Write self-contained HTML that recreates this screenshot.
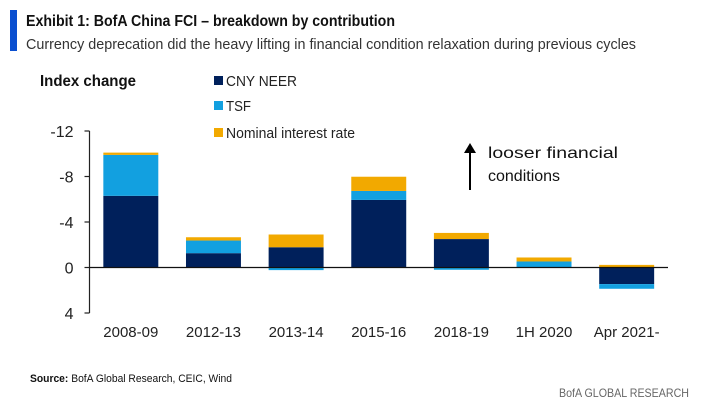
<!DOCTYPE html>
<html><head><meta charset="utf-8"><style>
body{margin:0;width:702px;height:416px;background:#fff;overflow:hidden;font-family:"Liberation Sans Narrow","Liberation Sans",sans-serif;}
svg{position:absolute;left:0;top:0}
</style></head><body>
<svg width="702" height="416">
<rect x="10" y="10" width="7" height="41" fill="#0a4fd0"/>
<text x="26" y="26" font-size="16" font-weight="bold" fill="#111" textLength="369" lengthAdjust="spacingAndGlyphs">Exhibit 1: BofA China FCI – breakdown by contribution</text>
<text x="26" y="49" font-size="15" fill="#333" textLength="610" lengthAdjust="spacingAndGlyphs">Currency deprecation did the heavy lifting in financial condition relaxation during previous cycles</text>
<text x="40" y="86" font-size="16" font-weight="bold" fill="#111" textLength="96" lengthAdjust="spacingAndGlyphs">Index change</text>
<g>
<rect x="214" y="76" width="9" height="9" fill="#00205b"/>
<text x="226" y="86" font-size="15" fill="#222" textLength="71" lengthAdjust="spacingAndGlyphs">CNY NEER</text>
<rect x="214" y="101" width="9" height="9" fill="#12a0e0"/>
<text x="226" y="111" font-size="15" fill="#222" textLength="25" lengthAdjust="spacingAndGlyphs">TSF</text>
<rect x="214" y="128" width="9" height="9" fill="#f2a900"/>
<text x="226" y="138" font-size="15" fill="#222" textLength="129" lengthAdjust="spacingAndGlyphs">Nominal interest rate</text>
</g>
<g id="plot"></g>
<line x1="470" y1="190" x2="470" y2="150" stroke="#000" stroke-width="2"/>
<polygon points="464,153 470,143 476,153" fill="#000"/>
<text x="488" y="158" font-size="16" fill="#111" font-family="Liberation Sans, sans-serif" textLength="130" lengthAdjust="spacingAndGlyphs">looser  financial</text>
<text x="488" y="181" font-size="16" fill="#111" font-family="Liberation Sans, sans-serif">conditions</text>
<text x="30" y="382" font-size="11" fill="#111" textLength="202" lengthAdjust="spacingAndGlyphs"><tspan font-weight="bold">Source:</tspan>  BofA Global Research, CEIC, Wind</text>
<text x="689" y="397" font-size="12" fill="#666" text-anchor="end" textLength="130" lengthAdjust="spacingAndGlyphs">BofA GLOBAL RESEARCH</text>
</svg>
<script>
const categories=["2008-09","2012-13","2013-14","2015-16","2018-19","1H 2020","Apr 2021-"];
const cnyNeer=[-6.3,-1.26,-1.78,-5.94,-2.5,0,1.46];
const tsf=[-3.6,-1.11,0.23,-0.79,0.2,-0.53,0.41];
const nominalRate=[-0.2,-0.29,-1.12,-1.25,-0.54,-0.35,-0.23];
const yTicks=[-12,-8,-4,0,4];
const NS="http://www.w3.org/2000/svg";
const g=document.getElementById('plot');
const x0=89.5,x1=668,yTop=131,yBot=313,vMin=-12,vMax=4;
const y=v=>yTop+(v-vMin)/(vMax-vMin)*(yBot-yTop);
const band=(x1-x0)/categories.length,bw=band*0.665;
function mk(t,a){const e=document.createElementNS(NS,t);for(const k in a)e.setAttribute(k,a[k]);g.appendChild(e);return e;}
const ax=mk('line',{x1:x0,y1:yTop,x2:x0,y2:yBot,stroke:'#222','stroke-width':1.2});


yTicks.forEach(t=>{
  const tk=mk('line',{x1:x0-5,y1:y(t),x2:x0,y2:y(t),stroke:'#222','stroke-width':1.2});
  
  
  const l=mk('text',{x:x0-16,y:y(t)+6,'font-size':16,fill:'#222','text-anchor':'end'});
  l.textContent=String(t);
  
  
});
const series=[[cnyNeer,'#00205b','cny-neer'],[tsf,'#12a0e0','tsf'],[nominalRate,'#f2a900','nominal-rate']];
categories.forEach((c,i)=>{
  const cx=x0+band*(i+0.5);
  let pos=0,neg=0;
  series.forEach(([arr,col,nm])=>{
    const v=arr[i];if(!v)return;
    let a,b;
    if(v<0){a=neg;b=neg+v;neg=b;}else{a=pos;b=pos+v;pos=b;}
    const r=mk('rect',{x:cx-bw/2,y:Math.min(y(a),y(b)),width:bw,height:Math.abs(y(a)-y(b)),fill:col});
    
    
  });
  const l=mk('text',{x:cx,y:yBot+24,'font-size':15,fill:'#222','text-anchor':'middle'});
  l.textContent=c;
  
  
});
const zl=mk('line',{x1:x0,y1:y(0),x2:x1,y2:y(0),stroke:'#111','stroke-width':1.3});


</script>
</body></html>
